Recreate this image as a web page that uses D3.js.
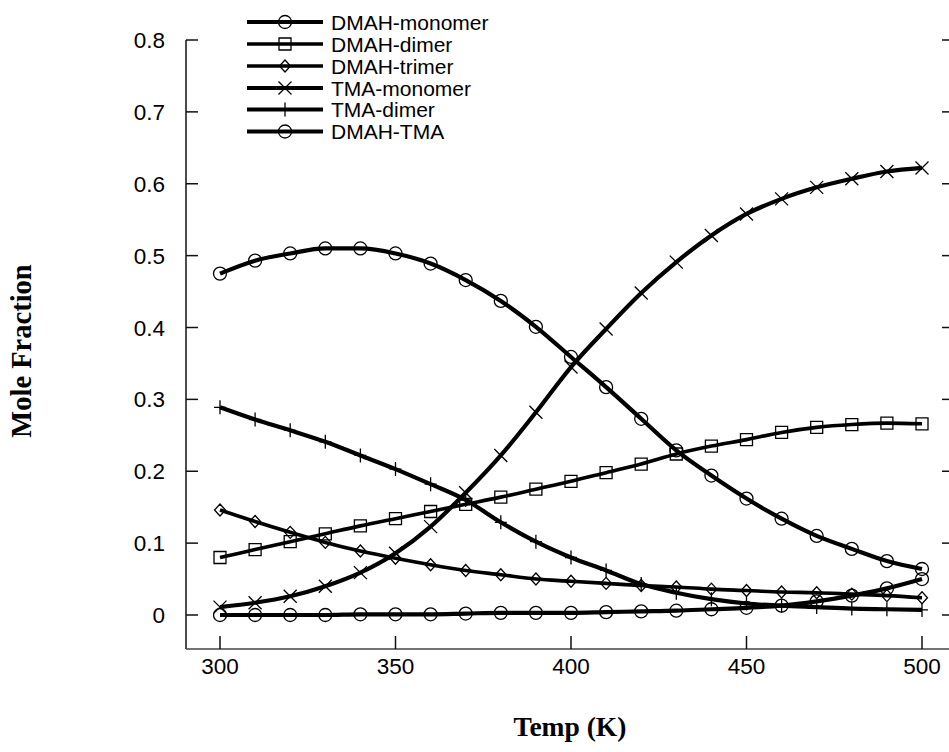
<!DOCTYPE html>
<html>
<head>
<meta charset="utf-8">
<script src="https://cdn.jsdelivr.net/npm/d3@7"></script>
<style>
  body { margin: 0; background: #fff; }
  svg { display: block; }
</style>
</head>
<body>
<div id="chart"></div>
<script>
// Temperatures (K)
const temps = [300, 310, 320, 330, 340, 350, 360, 370, 380, 390, 400,
               410, 420, 430, 440, 450, 460, 470, 480, 490, 500];

// Mole fractions
const dmahMonomer = [0.475, 0.493, 0.503, 0.510, 0.510, 0.503, 0.489, 0.466, 0.437, 0.401, 0.359,
                     0.317, 0.273, 0.229, 0.194, 0.162, 0.134, 0.110, 0.092, 0.075, 0.064];
const dmahDimer   = [0.080, 0.091, 0.102, 0.113, 0.124, 0.134, 0.144, 0.154, 0.164, 0.175, 0.186,
                     0.198, 0.210, 0.224, 0.235, 0.244, 0.254, 0.261, 0.265, 0.267, 0.266];
const dmahTrimer  = [0.146, 0.130, 0.115, 0.101, 0.089, 0.079, 0.070, 0.062, 0.056, 0.050, 0.047,
                     0.044, 0.041, 0.039, 0.036, 0.034, 0.032, 0.031, 0.029, 0.027, 0.024];
const tmaMonomer  = [0.011, 0.017, 0.026, 0.040, 0.059, 0.086, 0.123, 0.170, 0.222, 0.282, 0.345,
                     0.398, 0.448, 0.491, 0.528, 0.558, 0.579, 0.595, 0.607, 0.617, 0.622];
const tmaDimer    = [0.289, 0.272, 0.257, 0.241, 0.222, 0.203, 0.182, 0.160, 0.129, 0.102, 0.080,
                     0.062, 0.043, 0.031, 0.022, 0.016, 0.013, 0.011, 0.009, 0.008, 0.007];
const dmahTma     = [0.000, 0.000, 0.000, 0.000, 0.001, 0.001, 0.001, 0.002, 0.003, 0.003, 0.003,
                     0.004, 0.005, 0.006, 0.008, 0.010, 0.013, 0.019, 0.027, 0.037, 0.050];

const seriesNames = ["DMAH-monomer", "DMAH-dimer", "DMAH-trimer", "TMA-monomer", "TMA-dimer", "DMAH-TMA"];
const seriesValues = [dmahMonomer, dmahDimer, dmahTrimer, tmaMonomer, tmaDimer, dmahTma];
const seriesMarkers = ["circle", "square", "diamond", "cross", "plus", "circle"];

const xTicks = [300, 350, 400, 450, 500];
const yTicks = [0, 0.1, 0.2, 0.3, 0.4, 0.5, 0.6, 0.7, 0.8];

const width = 949, height = 752;

const x = d3.scaleLinear().domain([300, 500]).range([220, 922]);
const y = d3.scaleLinear().domain([0, 0.8]).range([615, 40]);

const svg = d3.select("#chart").append("svg")
    .attr("width", width)
    .attr("height", height)
    .attr("viewBox", [0, 0, width, height]);

// --- axes ---
const axisLeft = 186, axisBottom = 649;
const sans = "Liberation Sans, Arial, sans-serif";

svg.append("line")
    .attr("x1", axisLeft).attr("x2", axisLeft)
    .attr("y1", y(0.8)).attr("y2", axisBottom)
    .attr("stroke", "#111").attr("stroke-width", 1.5);
svg.append("line")
    .attr("x1", axisLeft).attr("x2", width)
    .attr("y1", axisBottom).attr("y2", axisBottom)
    .attr("stroke", "#444").attr("stroke-width", 1.3);

// y ticks on the left (inward) and right edge
svg.append("g").selectAll("line")
    .data(yTicks).join("line")
    .attr("x1", axisLeft).attr("x2", axisLeft + 12)
    .attr("y1", d => y(d)).attr("y2", d => y(d))
    .attr("stroke", "#111").attr("stroke-width", 1.5);
svg.append("g").selectAll("line")
    .data(yTicks).join("line")
    .attr("x1", 942).attr("x2", width)
    .attr("y1", d => y(d)).attr("y2", d => y(d))
    .attr("stroke", "#111").attr("stroke-width", 1.5);

svg.append("g").selectAll("text")
    .data(yTicks).join("text")
    .attr("x", 165)
    .attr("y", d => y(d) + 8)
    .attr("text-anchor", "end")
    .attr("font-family", sans)
    .attr("font-size", 22.5)
    .text(d => d === 0 ? "0" : d3.format(".1f")(d));

// x ticks point upward from the bottom line
svg.append("g").selectAll("line")
    .data(xTicks).join("line")
    .attr("x1", d => x(d)).attr("x2", d => x(d))
    .attr("y1", axisBottom).attr("y2", axisBottom - 13)
    .attr("stroke", "#111").attr("stroke-width", 1.5);

svg.append("g").selectAll("text")
    .data(xTicks).join("text")
    .attr("x", d => x(d))
    .attr("y", 674)
    .attr("text-anchor", "middle")
    .attr("font-family", sans)
    .attr("font-size", 22.5)
    .text(d => d);

// axis titles
svg.append("text")
    .attr("x", 570).attr("y", 736)
    .attr("text-anchor", "middle")
    .attr("font-family", "Liberation Serif, Times New Roman, serif")
    .attr("font-weight", "bold")
    .attr("font-size", 27.5)
    .text("Temp (K)");

svg.append("text")
    .attr("transform", "translate(31,351) rotate(-90)")
    .attr("text-anchor", "middle")
    .attr("font-family", "Liberation Serif, Times New Roman, serif")
    .attr("font-weight", "bold")
    .attr("font-size", 28.5)
    .text("Mole Fraction");

// --- markers ---
function markerPath(type) {
    switch (type) {
        case "circle":  return d3.symbol(d3.symbolCircle, Math.PI * 6.5 * 6.5)();
        case "square":  return "M-6,-6H6V6H-6Z";
        case "diamond": return "M0,-6L5.5,0L0,6L-5.5,0Z";
        case "cross":   return "M-6.5,-6.5L6.5,6.5M-6.5,6.5L6.5,-6.5";
        case "plus":    return "M0,-7V7M-6,0H6";
    }
}

const lineWidths = [4.2, 3.6, 3.6, 4.2, 4.2, 4.2];

const line = d3.line()
    .x((d, i) => x(temps[i]))
    .y(d => y(d))
    .curve(d3.curveMonotoneX);

const series = seriesNames.map((name, k) => ({
    name, values: seriesValues[k], marker: seriesMarkers[k], width: lineWidths[k]
}));

const plot = svg.append("g");

plot.selectAll("path.series")
    .data(series).join("path")
    .attr("class", "series")
    .attr("fill", "none")
    .attr("stroke", "#000")
    .attr("stroke-width", d => d.width)
    .attr("stroke-linejoin", "round")
    .attr("d", d => line(d.values));

series.forEach(s => {
    plot.append("g").selectAll("path")
        .data(s.values).join("path")
        .attr("transform", (d, i) => `translate(${x(temps[i])},${y(d)})`)
        .attr("d", markerPath(s.marker))
        .attr("fill", "none")
        .attr("stroke", "#000")
        .attr("stroke-width", 1.3);
});

// --- legend ---
const legendY = [22, 44, 66, 88, 109.5, 131.5];
const legend = svg.append("g").selectAll("g")
    .data(series).join("g")
    .attr("transform", (d, i) => `translate(0,${legendY[i]})`);

legend.append("line")
    .attr("x1", 247).attr("x2", 323)
    .attr("stroke", "#000")
    .attr("stroke-width", d => d.width);
legend.append("path")
    .attr("transform", "translate(285,0)")
    .attr("d", d => markerPath(d.marker))
    .attr("fill", "none")
    .attr("stroke", "#000")
    .attr("stroke-width", 1.3);
legend.append("text")
    .attr("x", 331).attr("y", 7.5)
    .attr("font-family", sans)
    .attr("font-size", 21)
    .text(d => d.name);
</script>
</body>
</html>
